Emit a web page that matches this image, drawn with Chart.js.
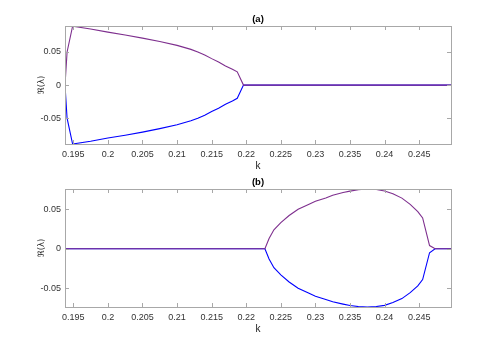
<!DOCTYPE html>
<html>
<head>
<meta charset="utf-8">
<script src="https://cdn.jsdelivr.net/npm/chart.js@4/dist/chart.umd.min.js"></script>
<style>
  html, body { margin: 0; padding: 0; background: #fff; }
  #wrap { position: relative; width: 498px; height: 346px; }
  .panel { position: absolute; left: 0; width: 498px; height: 173px; }
</style>
</head>
<body>
<div id="wrap">
  <div class="panel" style="top:0"><canvas id="chartA"></canvas></div>
  <div class="panel" style="top:163px"><canvas id="chartB"></canvas></div>
</div>
<script>
// panel (a)
var kA = [0.1938, 0.1941, 0.1949, 0.1975, 0.2, 0.2025, 0.205, 0.2075, 0.21, 0.211, 0.212, 0.213, 0.214, 0.215, 0.216, 0.217, 0.218, 0.2187, 0.2196, 0.225, 0.23, 0.235, 0.24, 0.245, 0.2496];
var upperA = [0, 0.05, 0.089, 0.0848, 0.080, 0.0757, 0.071, 0.0658, 0.060, 0.057, 0.054, 0.050, 0.0455, 0.040, 0.035, 0.029, 0.024, 0.020, 0, 0, 0, 0, 0, 0, 0];
var lowerA = [0, -0.05, -0.089, -0.0848, -0.080, -0.0757, -0.071, -0.0658, -0.060, -0.057, -0.054, -0.050, -0.0455, -0.040, -0.035, -0.029, -0.024, -0.020, 0, 0, 0, 0, 0, 0, 0];

// panel (b)
var kB = [0.1938, 0.2, 0.21, 0.22, 0.2227, 0.2233, 0.224, 0.225, 0.2262, 0.2275, 0.229, 0.23, 0.2315, 0.2325, 0.234, 0.235, 0.2362, 0.2375, 0.2388, 0.24, 0.2412, 0.2425, 0.2437, 0.2448, 0.2455, 0.2465, 0.2473, 0.2496];
var upperB = [0, 0, 0, 0, 0, 0.013, 0.024, 0.033, 0.042, 0.050, 0.056, 0.060, 0.064, 0.0675, 0.071, 0.0728, 0.0745, 0.0755, 0.0748, 0.073, 0.0695, 0.064, 0.056, 0.047, 0.039, 0.004, 0, 0];
var lowerB = [0, 0, 0, 0, 0, -0.013, -0.024, -0.033, -0.042, -0.050, -0.056, -0.060, -0.064, -0.067, -0.070, -0.0718, -0.0730, -0.0736, -0.0730, -0.0715, -0.068, -0.063, -0.0555, -0.047, -0.039, -0.005, 0, 0];

var xTicks = [0.195, 0.2, 0.205, 0.21, 0.215, 0.22, 0.225, 0.23, 0.235, 0.24, 0.245];
var yTicks = [-0.05, 0, 0.05];

var purple = '#7e2f8e';
var blue = '#0000ff';
var tickFont = { family: "'Liberation Sans', Arial, sans-serif", size: 9 };

function points(xs, ys) {
    return xs.map(function (x, i) { return { x: x, y: ys[i] }; });
}

// MATLAB-like box with inward ticks and the panel title
var boxPlugin = {
    id: 'box',
    afterDraw: function (chart, args, opts) {
        var ctx = chart.ctx, a = chart.chartArea;
        var xs = chart.scales.x, ys = chart.scales.y;
        ctx.save();
        ctx.strokeStyle = '#a8a8a8';
        ctx.lineWidth = 1;
        ctx.beginPath();
        xTicks.forEach(function (v) {
            var px = Math.round(xs.getPixelForValue(v)) + 0.5;
            ctx.moveTo(px, a.bottom); ctx.lineTo(px, a.bottom - 4);
            ctx.moveTo(px, a.top); ctx.lineTo(px, a.top + 4);
        });
        yTicks.forEach(function (v) {
            var py = Math.round(ys.getPixelForValue(v)) + 0.5;
            ctx.moveTo(a.left, py); ctx.lineTo(a.left + 4, py);
            ctx.moveTo(a.right, py); ctx.lineTo(a.right - 4, py);
        });
        ctx.stroke();
        ctx.strokeRect(Math.round(a.left) + 0.5, Math.round(a.top) + 0.5,
            Math.round(a.right - a.left), Math.round(a.bottom - a.top));
        ctx.fillStyle = '#000';
        ctx.font = "bold 9.5px 'Liberation Sans', Arial, sans-serif";
        ctx.textAlign = 'center';
        ctx.textBaseline = 'middle';
        ctx.fillText(opts.text, (a.left + a.right) / 2, a.top - 7);
        ctx.restore();
    }
};

function makeChart(id, title, ks, up, low, ymin, ymax) {
    return new Chart(document.getElementById(id), {
        type: 'line',
        data: {
            datasets: [
                { data: points(ks, low), borderColor: blue, borderWidth: 1.1, pointRadius: 0, tension: 0, order: 2 },
                { data: points(ks, up), borderColor: purple, borderWidth: 1.1, pointRadius: 0, tension: 0, order: 1 }
            ]
        },
        options: {
            responsive: true,
            maintainAspectRatio: false,
            animation: false,
            layout: { padding: { left: 0, right: 47, top: 26, bottom: 0 } },
            plugins: {
                legend: { display: false },
                tooltip: { enabled: false },
                box: { text: title }
            },
            scales: {
                x: {
                    type: 'linear',
                    min: 0.1938,
                    max: 0.2496,
                    afterBuildTicks: function (s) { s.ticks = xTicks.map(function (v) { return { value: v }; }); },
                    afterFit: function (s) { s.height = 29; },
                    grid: { display: false, drawTicks: false },
                    border: { display: false },
                    ticks: {
                        padding: 5, maxRotation: 0, autoSkip: false, color: '#333', font: tickFont,
                        callback: function (v) { return String(+v.toFixed(3)); }
                    },
                    title: { display: true, text: 'k', color: '#222', font: { family: tickFont.family, size: 10 }, padding: { top: 0, bottom: 1 } }
                },
                y: {
                    min: ymin,
                    max: ymax,
                    afterBuildTicks: function (s) { s.ticks = yTicks.map(function (v) { return { value: v }; }); },
                    afterFit: function (s) { s.width = 65; },
                    grid: { display: false, drawTicks: false },
                    border: { display: false },
                    ticks: {
                        padding: 4, color: '#333', font: tickFont,
                        callback: function (v) { return String(+v.toFixed(3)); }
                    },
                    title: { display: true, text: 'ℜ(λ)', color: '#222', font: { family: "'DejaVu Sans', sans-serif", size: 8.5 }, padding: { top: 37, bottom: 0 } }
                }
            }
        },
        plugins: [boxPlugin]
    });
}

makeChart('chartA', '(a)', kA, upperA, lowerA, -0.089, 0.0893);
makeChart('chartB', '(b)', kB, upperB, lowerB, -0.0736, 0.0755);
</script>
</body>
</html>
